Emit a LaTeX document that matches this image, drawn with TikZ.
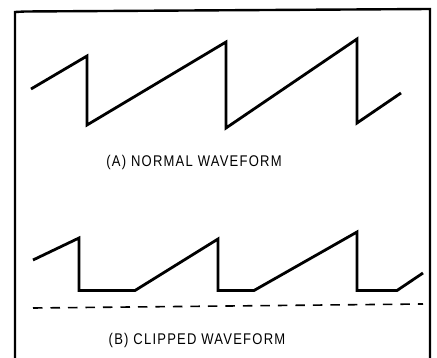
\documentclass[tikz,border=0pt]{standalone}
\usepackage{fontspec}
\setmainfont{Liberation Sans}
\newfontfamily\capfont[FakeStretch=0.84,LetterSpace=8]{Liberation Sans}
\begin{document}
\begin{tikzpicture}[x=1pt,y=-1pt,
  wave/.style={line width=2.8pt,line join=miter,line cap=butt},
  frame/.style={line width=2.4pt},
  clipline/.style={line width=1.6pt,dash pattern=on 9.5pt off 8pt},
  caption/.style={font=\capfont\fontsize{15.5}{15.5}\selectfont,anchor=base,inner sep=0pt}]
\useasboundingbox (0,0) rectangle (437,358);
% frame
\draw[frame] (15,360) -- (15,12) -- (25,11.5) -- (430,9) -- (430,360);
% (A) normal waveform
\draw[wave] (31,89) -- (87,56) -- (87,125) -- (226,42) -- (226,128)
  -- (357,39) -- (357,123) -- (401,93);
\node[caption] (capA) at (194,167) {(A) NORMAL WAVEFORM};
% (B) clipped waveform
\draw[wave] (33,260) -- (79,238) -- (79,290.5) -- (135,290.5) -- (218,239)
  -- (218,290.5) -- (254,290.5) -- (357,232) -- (357,290.5) -- (397,290.5)
  -- (423,273);
\coordinate (clipL) at (33,308);
\coordinate (clipR) at (423,304);
\draw[clipline] (clipL) -- (clipR);
\node[caption] (capB) at (197,345) {(B) CLIPPED WAVEFORM};
\end{tikzpicture}
\end{document}
